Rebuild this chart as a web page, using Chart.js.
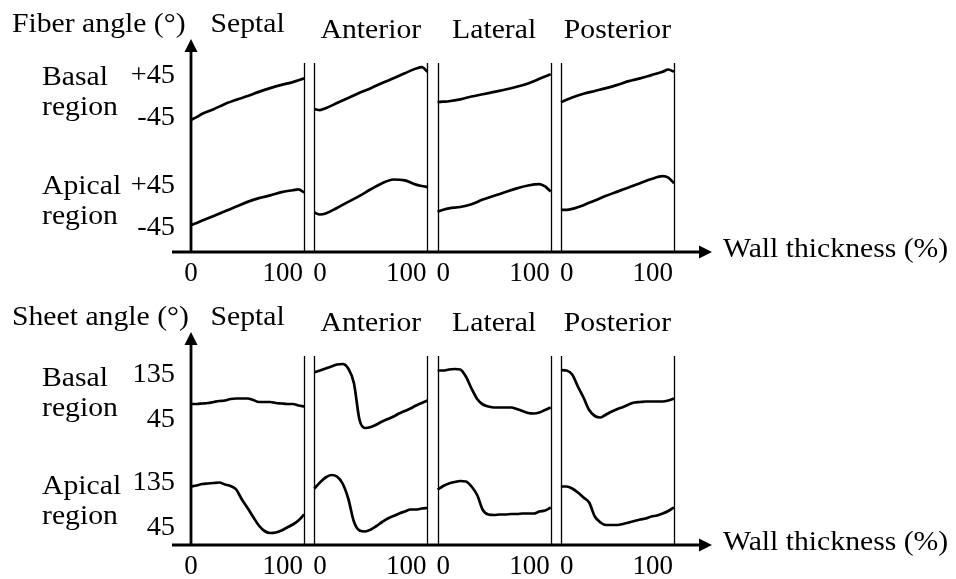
<!DOCTYPE html>
<html><head><meta charset="utf-8">
<script src="https://cdn.jsdelivr.net/npm/chart.js@4.4.1/dist/chart.umd.min.js"></script>
<style>
html,body{margin:0;padding:0;background:#fff;overflow:hidden;width:956px;height:579px;}
canvas{position:absolute;left:0;}
#c1{top:0}
#c2{top:293px}
</style></head><body>
<canvas id="c1" width="956" height="286"></canvas>
<canvas id="c2" width="956" height="286"></canvas>
<script>
// ---------- data ----------
const regions = ['Septal', 'Anterior', 'Lateral', 'Posterior'];
const rowNames = ['Basal', 'Apical'];
const xTickLabels = ['0', '100'];
const fiberTickValues = [45, -45];
const fiberTickLabels = ['+45', '-45'];
const sheetTickValues = [135, 45];
const sheetTickLabels = ['135', '45'];

// wall thickness (%) sample points
const fiberDepth = [0, 5, 10, 20, 30, 40, 50, 60, 70, 80, 90, 95, 100];
const sheetDepth = [0, 5, 10, 15, 20, 25, 30, 35, 40, 45, 50, 55, 60, 65, 70, 75, 80, 85, 90, 95, 100];

// fiber angle (deg)
const fiberBasalSeptal    = [-49, -43, -36, -26, -15, -6, 2, 11, 19, 26, 32, 36, 40];
const fiberBasalAnterior  = [-26, -28, -24, -13, -2, 9, 19, 30, 40, 51, 61, 64, 54];
const fiberBasalLateral   = [-11, -10, -9, -5, 1, 6, 11, 16, 22, 29, 39, 44, 49];
const fiberBasalPosterior = [-11, -6, -1, 7, 13, 19, 26, 34, 40, 47, 54, 59, 54];
const fiberApicalSeptal    = [-39, -34, -29, -19, -9, 1, 11, 19, 25, 32, 36, 38, 31];
const fiberApicalAnterior  = [-12, -16, -14, -2, 11, 24, 38, 51, 59, 57, 48, 45, 43];
const fiberApicalLateral   = [-10, -6, -3, 0, 6, 16, 24, 32, 40, 46, 49, 44, 33];
const fiberApicalPosterior = [-6, -6, -4, 4, 14, 24, 33, 42, 51, 60, 66, 63, 51];

// sheet angle (deg)
const sheetBasalSeptal    = [76, 76, 77, 78, 80, 82, 83, 86, 87, 87, 87, 84, 80, 80, 80, 78, 77, 76, 76, 73, 71];
const sheetBasalAnterior  = [139, 143, 147, 151, 155, 156, 147, 118, 44, 28, 30, 35, 41, 46, 51, 57, 62, 67, 73, 78, 83];
const sheetBasalLateral   = [143, 143, 145, 146, 145, 131, 107, 86, 75, 71, 69, 69, 69, 69, 66, 62, 58, 57, 59, 64, 69];
const sheetBasalPosterior = [144, 143, 135, 111, 89, 64, 52, 49, 55, 61, 66, 70, 75, 79, 80, 81, 81, 81, 81, 83, 87];
const sheetApicalSeptal    = [127, 129, 132, 133, 134, 135, 131, 128, 121, 101, 84, 66, 49, 38, 34, 35, 39, 45, 51, 59, 71];
const sheetApicalAnterior  = [123, 135, 145, 150, 147, 133, 103, 57, 39, 37, 41, 48, 56, 63, 68, 73, 77, 81, 81, 83, 84];
const sheetApicalLateral   = [121, 128, 133, 136, 138, 137, 127, 110, 80, 71, 70, 71, 71, 72, 72, 73, 73, 73, 77, 79, 85];
const sheetApicalPosterior = [127, 127, 123, 115, 105, 95, 67, 55, 50, 50, 50, 52, 55, 58, 61, 63, 67, 69, 73, 78, 85];

// ---------- layout ----------
const SEG = 109; // horizontal spacing of the four wall-thickness blocks (x units)
const FONT = '27px "Liberation Serif", "Times New Roman", serif';
const STRETCH = 1.1;

function drawText(ctx, s, x, y, align, stretch, baseline) {
  ctx.save();
  ctx.translate(x, y);
  ctx.scale(stretch, 1);
  ctx.textAlign = align;
  ctx.textBaseline = baseline || 'alphabetic';
  ctx.fillText(s, 0, 0);
  ctx.restore();
}

function makePanel(id, p) {
  const datasets = [];
  p.rows.forEach((row, r) => {
    row.forEach((arr, k) => {
      datasets.push({
        data: p.depth.map((d, i) => ({x: k * SEG + d, y: arr[i]})),
        yAxisID: r === 0 ? 'yB' : 'yA',
        borderColor: '#000',
        borderWidth: 2.7,
        pointRadius: 0,
        fill: false,
        cubicInterpolationMode: 'monotone'
      });
    });
  });

  const deco = {
    id: 'deco',
    afterDraw(chart) {
      const {ctx, chartArea: a, scales} = chart;
      const x = scales.x;
      const x0 = x.getPixelForValue(0);
      const xEnd = x.getPixelForValue(3 * SEG + 100);
      ctx.save();
      ctx.strokeStyle = '#000';
      ctx.fillStyle = '#000';
      // separators
      ctx.lineWidth = 1.3;
      for (let k = 0; k < 4; k++) {
        const xs = k === 0 ? [100] : [0, 100];
        xs.forEach(v => {
          const px = Math.round(x.getPixelForValue(k * SEG + v)) + 0.5;
          ctx.beginPath(); ctx.moveTo(px, a.top); ctx.lineTo(px, a.bottom); ctx.stroke();
        });
      }
      // y axis with arrow
      ctx.lineWidth = 2.8;
      ctx.beginPath(); ctx.moveTo(x0, a.bottom); ctx.lineTo(x0, 50); ctx.stroke();
      ctx.beginPath(); ctx.moveTo(x0 - 6.5, 52); ctx.lineTo(x0 + 6.5, 52); ctx.lineTo(x0, 39); ctx.closePath(); ctx.fill();
      // x axis with arrow
      ctx.beginPath(); ctx.moveTo(x0 - 19, a.bottom); ctx.lineTo(xEnd + 28, a.bottom); ctx.stroke();
      ctx.beginPath(); ctx.moveTo(xEnd + 25, a.bottom - 6.5); ctx.lineTo(xEnd + 25, a.bottom + 6.5); ctx.lineTo(xEnd + 38, a.bottom); ctx.closePath(); ctx.fill();

      ctx.font = FONT;
      // titles
      drawText(ctx, p.title, 12, 32, 'left', STRETCH);
      regions.forEach((name, k) => {
        drawText(ctx, name, x.getPixelForValue(k * SEG + 50), k === 0 ? 32 : 38, 'center', STRETCH);
      });
      // row labels
      drawText(ctx, rowNames[0], 42, p.rowY[0], 'left', STRETCH);
      drawText(ctx, 'region', 42, p.rowY[1], 'left', STRETCH);
      drawText(ctx, rowNames[1], 42, p.rowY[2], 'left', STRETCH);
      drawText(ctx, 'region', 42, p.rowY[3], 'left', STRETCH);
      // y ticks
      ['yB', 'yA'].forEach(s => {
        p.tickValues.forEach((v, i) => {
          drawText(ctx, p.tickLabels[i], x0 - 16, scales[s].getPixelForValue(v), 'right', 1.05, 'middle');
        });
      });
      // x ticks
      for (let k = 0; k < 4; k++) {
        const ps = x.getPixelForValue(k * SEG);
        const pe = x.getPixelForValue(k * SEG + 100);
        if (k === 0) drawText(ctx, xTickLabels[0], ps, 281, 'center', 1);
        else drawText(ctx, xTickLabels[0], ps - 1, 281, 'left', 1);
        drawText(ctx, xTickLabels[1], pe - 1, 281, 'right', 1);
      }
      drawText(ctx, 'Wall thickness (%)', xEnd + 49, 257, 'left', STRETCH);
      ctx.restore();
    }
  };

  return new Chart(document.getElementById(id), {
    type: 'line',
    data: {datasets},
    options: {
      responsive: false,
      animation: false,
      devicePixelRatio: 1,
      layout: {padding: {left: 191, right: 282, top: 63, bottom: 34}},
      plugins: {legend: {display: false}, tooltip: {enabled: false}},
      scales: {
        x: {type: 'linear', min: 0, max: 3 * SEG + 100, display: false},
        yB: {type: 'linear', min: p.yB[0], max: p.yB[1], display: false},
        yA: {type: 'linear', min: p.yA[0], max: p.yA[1], display: false}
      }
    },
    plugins: [deco]
  });
}

makePanel('c1', {
  title: 'Fiber angle (\u00B0)',
  depth: fiberDepth,
  rows: [
    [fiberBasalSeptal, fiberBasalAnterior, fiberBasalLateral, fiberBasalPosterior],
    [fiberApicalSeptal, fiberApicalAnterior, fiberApicalLateral, fiberApicalPosterior]
  ],
  tickValues: fiberTickValues,
  tickLabels: fiberTickLabels,
  yB: [-332.1, 72.9],
  yA: [-96.4, 308.6],
  rowY: [85, 115, 194, 224]
});

makePanel('c2', {
  title: 'Sheet angle (\u00B0)',
  depth: sheetDepth,
  rows: [
    [sheetBasalSeptal, sheetBasalAnterior, sheetBasalLateral, sheetBasalPosterior],
    [sheetApicalSeptal, sheetApicalAnterior, sheetApicalLateral, sheetApicalPosterior]
  ],
  tickValues: sheetTickValues,
  tickLabels: sheetTickLabels,
  yB: [-206, 172],
  yA: [10, 388],
  rowY: [93, 123, 201, 231]
});
</script>
</body></html>
